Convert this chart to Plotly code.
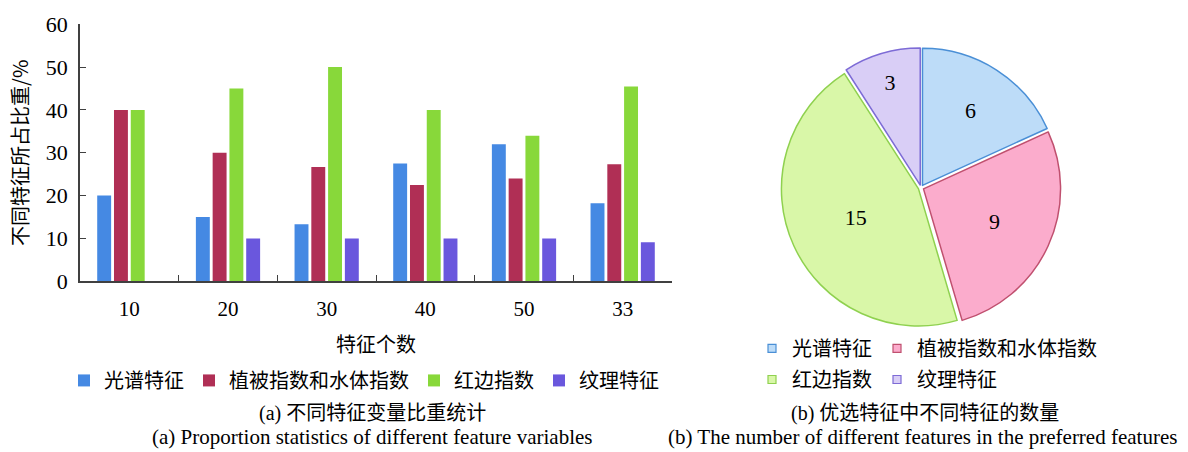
import plotly.graph_objects as go

# ---------------- data ----------------
categories = ["10", "20", "30", "40", "50", "33"]
feature_names = ["光谱特征", "植被指数和水体指数", "红边指数", "纹理特征"]
spectral = [20, 15, 13.3, 27.5, 32, 18.2]
veg_water = [40, 30, 26.7, 22.5, 24, 27.3]
red_edge = [40, 45, 50, 40, 34, 45.5]
texture = [0, 10, 10, 10, 10, 9.1]
y_ticks = [0, 10, 20, 30, 40, 50, 60]
pie_counts = [6, 9, 15, 3]

x_title = "特征个数"
y_title = "不同特征所占比重/%"
cap_a_cn = "(a) 不同特征变量比重统计"
cap_a_en = "(a) Proportion statistics of different feature variables"
cap_b_cn = "(b) 优选特征中不同特征的数量"
cap_b_en = "(b) The number of different features in the preferred features"

# ---------------- style ----------------
W, H = 1188, 452
FONT = "Liberation Serif, Noto Sans CJK SC, serif"
CJK = "Noto Sans CJK SC, sans-serif"
bar_colors = ["#4589e3", "#b02f55", "#88d83a", "#6a57dd"]
pie_fill = ["#bddcf8", "#fbaccc", "#d9f7a8", "#d9cef6"]
pie_line = ["#4a8fd6", "#c0506f", "#8fd14f", "#7d6bd6"]
AX = "#404040"


def px(x):
    return x / W


def py(y):
    return 1 - y / H


fig = go.Figure()

for name, vals, col in zip(feature_names, [spectral, veg_water, red_edge, texture], bar_colors):
    fig.add_trace(go.Bar(
        x=categories, y=vals, name=name,
        marker=dict(color=col, line=dict(width=0)),
        legend="legend", hoverinfo="x+y+name",
    ))

fig.add_trace(go.Pie(
    labels=feature_names, values=pie_counts,
    sort=False, direction="clockwise", rotation=0,
    pull=[0.02] * 4,
    marker=dict(colors=pie_fill, line=dict(color=pie_line, width=1.5)),
    textinfo="value", textposition="inside", insidetextorientation="horizontal",
    textfont=dict(family=FONT, size=22, color="black"),
    domain=dict(x=[px(773), px(1069)], y=[py(334), py(38)]),
    showlegend=False,
))

# legend entries for the pie (two rows)
for i, (name, fc, lc) in enumerate(zip(feature_names, pie_fill, pie_line)):
    fig.add_trace(go.Scatter(
        x=[None], y=[None], mode="markers", name=name,
        marker=dict(symbol="square", size=8, color=fc, line=dict(color=lc, width=1.2)),
        legend="legend2" if i < 2 else "legend3",
        xaxis="x2", yaxis="y2", hoverinfo="skip",
    ))

fig.update_layout(
    width=W, height=H,
    margin=dict(l=0, r=0, t=0, b=0),
    paper_bgcolor="white", plot_bgcolor="white",
    font=dict(family=FONT, size=20, color="black"),
    barmode="group", bargap=0.32, bargroupgap=0.17,
    xaxis=dict(
        domain=[px(80), px(672)], type="category", anchor="y",
        showline=True, linecolor=AX, linewidth=1.5,
        ticks="inside", tickson="boundaries", ticklen=6, tickcolor=AX, tickwidth=1.2,
        tickfont=dict(family=FONT, size=21, color="black"),
        ticklabelstandoff=8,
        showgrid=False, zeroline=False,
        title=dict(text=x_title, font=dict(family=CJK, size=20, color="black"), standoff=18),
    ),
    yaxis=dict(
        domain=[py(285), py(13)], range=[0, 60], anchor="x",
        tickvals=y_ticks,
        showline=True, linecolor=AX, linewidth=1.5,
        ticks="inside", ticklen=6, tickcolor=AX, tickwidth=1.2,
        tickfont=dict(family=FONT, size=22, color="black"),
        ticklabelstandoff=6,
        showgrid=False, zeroline=False,
        title=dict(text=y_title, font=dict(family=CJK, size=20, color="black"), standoff=12),
    ),
    xaxis2=dict(domain=[0.99, 1.0], anchor="y2", visible=False),
    yaxis2=dict(domain=[0.0, 0.01], anchor="x2", visible=False),
    legend=dict(
        orientation="h", x=px(364), xanchor="center", y=py(390), yanchor="middle",
        font=dict(family=CJK, size=20, color="black"), bgcolor="rgba(0,0,0,0)",
        traceorder="normal",
    ),
    legend2=dict(
        orientation="h", x=px(752), xanchor="left", y=py(356), yanchor="middle",
        font=dict(family=CJK, size=20, color="black"), bgcolor="rgba(0,0,0,0)",
    ),
    legend3=dict(
        orientation="h", x=px(752), xanchor="left", y=py(389), yanchor="middle",
        font=dict(family=CJK, size=20, color="black"), bgcolor="rgba(0,0,0,0)",
    ),
    annotations=[
        dict(text=cap_a_cn, x=px(372), y=py(425), xref="paper", yref="paper",
             showarrow=False, xanchor="center", yanchor="middle", font=dict(family=FONT, size=20)),
        dict(text=cap_a_en, x=px(372), y=py(450), xref="paper", yref="paper",
             showarrow=False, xanchor="center", yanchor="middle", font=dict(family=FONT, size=21)),
        dict(text=cap_b_cn, x=px(925), y=py(425), xref="paper", yref="paper",
             showarrow=False, xanchor="center", yanchor="middle", font=dict(family=FONT, size=20)),
        dict(text=cap_b_en, x=px(922), y=py(450), xref="paper", yref="paper",
             showarrow=False, xanchor="center", yanchor="middle", font=dict(family=FONT, size=21)),
    ],
)

fig.write_html("out.html")
